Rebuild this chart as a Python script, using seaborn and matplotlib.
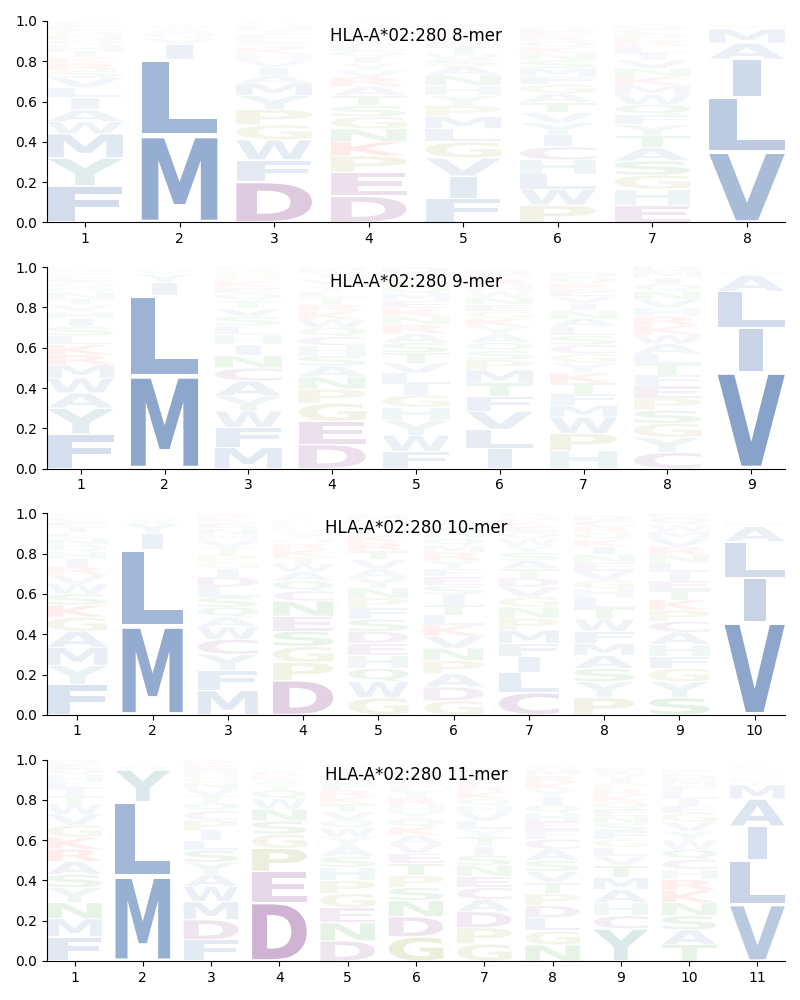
import matplotlib
matplotlib.use('Agg')
import matplotlib.pyplot as plt
import seaborn as sns
import pandas as pd
from matplotlib.textpath import TextPath
from matplotlib.patches import PathPatch
from matplotlib.font_manager import FontProperties
from matplotlib.transforms import Affine2D

allele = 'HLA-A*02:280'

# letter heights per position (bottom letter = biggest)
mer8 = [
    {'F': .18, 'Y': .14, 'M': .12, 'W': .06, 'A': .06, 'I': .06, 'L': .05, 'V': .05, 'S': .035, 'R': .035,
     'K': .03, 'T': .03, 'H': .03, 'Q': .025, 'N': .025, 'G': .025, 'E': .02, 'C': .02},
    {'M': .43, 'L': .38, 'I': .075, 'V': .03, 'Q': .025, 'A': .02, 'T': .015, 'Y': .015},
    {'D': .2, 'F': .11, 'W': .1, 'P': .075, 'G': .075, 'Y': .07, 'M': .06, 'I': .04, 'A': .04, 'V': .035,
     'H': .03, 'K': .03, 'S': .025, 'L': .025, 'T': .02, 'N': .02, 'E': .02, 'Q': .015, 'R': .01},
    {'D': .13, 'E': .12, 'P': .08, 'K': .07, 'N': .065, 'G': .06, 'S': .055, 'T': .05, 'R': .045, 'A': .045,
     'V': .035, 'Y': .035, 'Q': .03, 'L': .03, 'I': .03, 'H': .025, 'W': .025, 'F': .02, 'M': .02, 'C': .02},
    {'F': .12, 'I': .11, 'V': .09, 'G': .08, 'L': .065, 'M': .06, 'P': .055, 'H': .05, 'N': .05, 'Y': .05,
     'A': .045, 'S': .035, 'T': .03, 'W': .03, 'K': .025, 'E': .025, 'Q': .02, 'R': .02, 'D': .015, 'C': .015},
    {'P': .085, 'W': .08, 'L': .075, 'H': .07, 'C': .065, 'I': .06, 'Y': .06, 'V': .05, 'T': .05, 'A': .045,
     'G': .045, 'S': .04, 'F': .04, 'M': .04, 'N': .035, 'K': .03, 'Q': .03, 'E': .025, 'R': .025, 'D': .02},
    {'E': .085, 'H': .08, 'S': .07, 'G': .07, 'A': .065, 'T': .06, 'Y': .055, 'Q': .05, 'F': .05, 'W': .05,
     'M': .045, 'K': .045, 'V': .04, 'N': .04, 'I': .035, 'L': .035, 'R': .03, 'P': .03, 'C': .025, 'D': .02},
    {'V': .35, 'L': .27, 'I': .19, 'A': .08, 'M': .07, 'T': .015, 'F': .01},
]

mer9 = [
    {'F': .17, 'Y': .13, 'A': .075, 'W': .075, 'M': .065, 'R': .05, 'K': .05, 'L': .045, 'S': .045, 'I': .04,
     'H': .035, 'V': .035, 'T': .03, 'N': .03, 'Q': .025, 'G': .025, 'E': .02, 'C': .02, 'P': .02, 'D': .015},
    {'M': .46, 'L': .40, 'I': .065, 'Y': .04, 'V': .02, 'Q': .01},
    {'M': .105, 'F': .1, 'W': .08, 'A': .075, 'Y': .075, 'C': .065, 'N': .06, 'I': .055, 'H': .05, 'L': .045,
     'S': .045, 'V': .04, 'T': .04, 'Q': .035, 'K': .03, 'E': .03, 'G': .025, 'P': .025, 'R': .02},
    {'D': .12, 'E': .115, 'G': .09, 'P': .07, 'N': .06, 'A': .055, 'H': .05, 'S': .05, 'C': .045, 'Q': .045,
     'W': .04, 'K': .04, 'T': .035, 'R': .035, 'Y': .03, 'V': .03, 'L': .03, 'I': .025, 'F': .02, 'M': .02},
    {'F': .085, 'W': .08, 'Y': .075, 'H': .065, 'G': .06, 'I': .055, 'L': .055, 'S': .05, 'V': .05, 'T': .05,
     'A': .045, 'R': .045, 'K': .04, 'N': .04, 'E': .04, 'P': .035, 'M': .035, 'Q': .035, 'C': .03, 'D': .03},
    {'I': .1, 'L': .095, 'V': .09, 'F': .075, 'T': .065, 'M': .065, 'P': .05, 'S': .045, 'Q': .04, 'A': .04,
     'K': .04, 'Y': .04, 'G': .035, 'E': .035, 'N': .035, 'H': .03, 'R': .03, 'W': .03, 'C': .025, 'D': .02},
    {'H': .09, 'P': .085, 'W': .08, 'M': .06, 'F': .055, 'T': .055, 'Y': .05, 'K': .05, 'S': .045, 'L': .045,
     'C': .045, 'G': .045, 'N': .04, 'A': .04, 'I': .035, 'E': .035, 'V': .035, 'R': .03, 'Q': .03, 'D': .025},
    {'C': .08, 'Y': .075, 'G': .07, 'S': .065, 'P': .06, 'E': .06, 'F': .055, 'T': .055, 'L': .05, 'A': .05,
     'R': .045, 'H': .045, 'K': .045, 'W': .045, 'V': .04, 'N': .04, 'I': .035, 'Q': .035, 'M': .03, 'D': .025},
    {'V': .48, 'I': .22, 'L': .18, 'A': .08, 'M': .015, 'T': .01},
]

mer10 = [
    {'F': .15, 'Y': .095, 'M': .09, 'A': .08, 'G': .07, 'K': .06, 'S': .055, 'W': .05, 'V': .045, 'R': .04,
     'I': .04, 'H': .035, 'Q': .035, 'N': .03, 'L': .03, 'T': .03, 'E': .025, 'C': .02, 'P': .02},
    {'M': .44, 'L': .38, 'I': .08, 'Y': .05, 'V': .02, 'Q': .01, 'A': .01},
    {'M': .12, 'F': .1, 'Y': .08, 'C': .075, 'W': .06, 'A': .05, 'D': .05, 'S': .05, 'L': .05, 'Q': .05,
     'I': .04, 'P': .035, 'T': .035, 'G': .035, 'V': .035, 'N': .03, 'E': .03, 'H': .03, 'K': .025, 'R': .02},
    {'D': .17, 'P': .09, 'G': .08, 'S': .075, 'E': .075, 'N': .075, 'Q': .05, 'C': .05, 'A': .045, 'W': .04,
     'K': .035, 'T': .035, 'R': .03, 'H': .025, 'Y': .025, 'V': .02, 'L': .02, 'F': .015, 'I': .015, 'M': .015},
    {'G': .085, 'W': .08, 'H': .065, 'Q': .065, 'E': .06, 'S': .06, 'D': .06, 'F': .055, 'N': .05, 'P': .05,
     'Y': .05, 'V': .045, 'A': .045, 'T': .045, 'R': .04, 'K': .04, 'L': .035, 'I': .035, 'M': .025, 'C': .015},
    {'G': .07, 'D': .068, 'A': .066, 'P': .065, 'N': .062, 'V': .06, 'K': .055, 'T': .05, 'I': .05, 'L': .05,
     'S': .045, 'E': .045, 'R': .04, 'F': .04, 'Y': .04, 'H': .035, 'Q': .035, 'M': .035, 'W': .03, 'C': .025},
    {'C': .11, 'L': .1, 'I': .08, 'F': .065, 'M': .065, 'P': .06, 'N': .055, 'G': .05, 'V': .05, 'T': .045,
     'D': .045, 'A': .04, 'S': .04, 'Y': .035, 'W': .035, 'E': .03, 'Q': .03, 'K': .025, 'H': .025, 'R': .02},
    {'P': .085, 'Y': .08, 'S': .065, 'A': .065, 'M': .06, 'F': .06, 'W': .06, 'T': .055, 'L': .05, 'H': .045,
     'G': .045, 'V': .045, 'I': .04, 'E': .04, 'N': .04, 'K': .035, 'Q': .035, 'R': .03, 'C': .03, 'D': .025},
    {'S': .085, 'Y': .08, 'G': .065, 'F': .06, 'H': .06, 'A': .06, 'C': .055, 'P': .055, 'T': .05, 'K': .05,
     'L': .045, 'I': .045, 'E': .045, 'R': .04, 'V': .04, 'N': .04, 'W': .035, 'Q': .035, 'M': .035, 'D': .02},
    {'V': .46, 'I': .22, 'L': .18, 'A': .075, 'M': .02, 'T': .01},
]

mer11 = [
    {'F': .12, 'M': .09, 'N': .08, 'Y': .075, 'S': .065, 'A': .065, 'R': .06, 'K': .06, 'G': .06, 'V': .055,
     'W': .05, 'T': .04, 'I': .035, 'L': .035, 'H': .035, 'Q': .03, 'E': .025, 'D': .02},
    {'M': .42, 'L': .37, 'Y': .16, 'Q': .02, 'V': .015},
    {'F': .105, 'D': .1, 'M': .09, 'W': .075, 'A': .06, 'S': .06, 'Y': .06, 'P': .05, 'L': .05, 'I': .05,
     'C': .045, 'Q': .04, 'T': .035, 'V': .035, 'G': .03, 'H': .03, 'N': .03, 'E': .025, 'K': .02, 'R': .02},
    {'D': .29, 'E': .155, 'P': .115, 'G': .07, 'S': .065, 'N': .06, 'W': .05, 'Q': .045, 'A': .025, 'T': .025,
     'K': .02, 'R': .02, 'H': .015, 'Y': .015, 'V': .01, 'C': .01},
    {'D': .1, 'N': .09, 'E': .075, 'G': .07, 'P': .065, 'H': .065, 'S': .055, 'A': .05, 'Y': .045, 'W': .045,
     'V': .04, 'T': .04, 'Q': .04, 'K': .035, 'R': .035, 'F': .03, 'L': .03, 'I': .025, 'M': .025, 'C': .02},
    {'G': .12, 'D': .1, 'N': .08, 'S': .065, 'T': .06, 'P': .06, 'E': .05, 'A': .045, 'V': .045, 'Q': .04,
     'K': .04, 'R': .035, 'H': .035, 'Y': .035, 'L': .03, 'I': .03, 'F': .025, 'C': .025, 'M': .02, 'W': .02},
    {'G': .085, 'P': .08, 'D': .08, 'C': .06, 'A': .06, 'E': .055, 'N': .055, 'S': .05, 'I': .045, 'T': .045,
     'V': .04, 'Y': .04, 'L': .04, 'K': .035, 'H': .035, 'Q': .035, 'R': .03, 'F': .03, 'M': .025, 'W': .025},
    {'N': .08, 'G': .07, 'L': .065, 'P': .06, 'D': .06, 'T': .055, 'V': .055, 'S': .055, 'A': .055, 'C': .05,
     'E': .045, 'F': .045, 'H': .04, 'Q': .04, 'I': .04, 'K': .035, 'R': .035, 'Y': .035, 'M': .03, 'W': .025},
    {'Y': .16, 'A': .065, 'H': .065, 'C': .065, 'T': .06, 'M': .06, 'L': .045, 'V': .045, 'F': .04, 'S': .04,
     'G': .04, 'N': .035, 'Q': .035, 'K': .035, 'E': .035, 'R': .03, 'I': .03, 'P': .03, 'W': .025, 'D': .02},
    {'T': .08, 'A': .075, 'S': .07, 'N': .065, 'K': .06, 'R': .055, 'Q': .05, 'C': .05, 'H': .05, 'G': .045,
     'Y': .045, 'V': .045, 'W': .045, 'L': .035, 'I': .035, 'E': .035, 'F': .03, 'M': .03, 'D': .025, 'P': .025},
    {'V': .28, 'L': .22, 'I': .17, 'A': .135, 'M': .07, 'T': .02, 'S': .015, 'F': .015, 'Y': .01, 'C': .01,
     'Q': .01, 'K': .01, 'W': .01},
]

panels = [('8-mer', mer8), ('9-mer', mer9), ('10-mer', mer10), ('11-mer', mer11)]

# residue groups -> colour
groups = {
    'AFILMVW': (40/255, 90/255, 160/255),
    'CDE': (110/255, 30/255, 120/255),
    'GP': (128/255, 128/255, 0),
    'NQST': (0, 128/255, 0),
    'KR': (1.0, 0, 0),
    'HY': (70/255, 140/255, 150/255),
}
aa_color = {aa: c for k, c in groups.items() for aa in k}

FONT = FontProperties(family='DejaVu Sans', weight='bold')
_cache = {}


def glyph(ch):
    if ch not in _cache:
        p = TextPath((0, 0), ch, size=1, prop=FONT)
        _cache[ch] = (p, p.get_extents())
    return _cache[ch]


E_W = glyph('E')[1].width


def draw_letter(ax, ch, x, bottom, height, width=0.8, vpad=0.06):
    path, ext = glyph(ch)
    h = height * (1 - vpad)
    y0 = bottom + height * vpad / 2
    # don't stretch narrow letters more than 'E'
    hs = min(width / ext.width, width / E_W)
    w = ext.width * hs
    tr = Affine2D().translate(-ext.xmin, -ext.ymin).scale(hs, h / ext.height).translate(x - w / 2, y0)
    ax.add_patch(PathPatch(tr.transform_path(path), facecolor=aa_color[ch], edgecolor='none',
                           alpha=min(1.0, 1.15 * height)))


sns.set_style('ticks', {'axes.edgecolor': 'black', 'xtick.color': 'black', 'ytick.color': 'black',
                        'text.color': 'black', 'axes.labelcolor': 'black'})
plt.rcParams['font.family'] = ['DejaVu Sans']

fig, axes = plt.subplots(4, 1, figsize=(8, 10), dpi=100)
fig.subplots_adjust(left=0.059, right=0.981, top=0.979, bottom=0.039, hspace=0.223)

for ax, (name, cols) in zip(axes, panels):
    df = pd.DataFrame(cols).fillna(0)
    df.index = range(1, len(cols) + 1)
    for pos, row in df.iterrows():
        bottom = 0
        for aa, val in row.sort_values(ascending=False).items():
            if val <= 0:
                continue
            draw_letter(ax, aa, pos, bottom, val)
            bottom += val
    ax.set_xlim(0.6, len(cols) + 0.4)
    ax.set_ylim(0, 1)
    ax.set_xticks(df.index)
    ax.set_yticks([0, .2, .4, .6, .8, 1.0])
    ax.text(0.5, 0.926, f'{allele} {name}', transform=ax.transAxes, ha='center', va='center', fontsize=12)
    sns.despine(ax=ax)

fig.savefig('out.png', dpi=100)
